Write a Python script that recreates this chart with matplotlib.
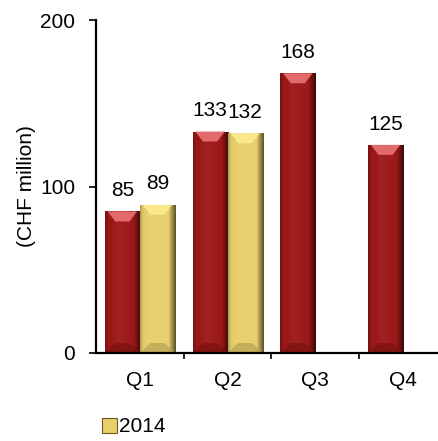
import numpy as np
import matplotlib
matplotlib.use("Agg")
import matplotlib.pyplot as plt
from matplotlib.patches import Polygon, Patch
from matplotlib.colors import to_rgb

plt.rcParams["font.family"] = ["Liberation Sans", "DejaVu Sans"]

# Quarterly values (CHF million)
quarters = ["Q1", "Q2", "Q3", "Q4"]
values_2013 = [85, 133, 168, 125]
values_2014 = [89, 132, None, None]
series_names = ["2013", "2014"]

RED = "#9c1818"
GOLD = "#e8cf6c"
FS = 15

fig = plt.figure(figsize=(4.39, 4.41), dpi=100)
ax = fig.add_axes([96 / 439, 88 / 441, 351 / 439, 333 / 441])

x = np.arange(len(quarters))
width = 0.4


def shade(color, f):
    c = np.array(to_rgb(color))
    if f >= 0:
        return tuple(c + (1 - c) * f)
    return tuple(c * (1 + f))


def bevel_bar(rect, color, top_col):
    x0, w, h = rect.get_x(), rect.get_width(), rect.get_height()
    # horizontal shading across the bar face
    t = np.linspace(0, 1, 64)
    prof = np.interp(t, [0, 0.08, 0.35, 0.8, 0.88, 1.0],
                     [-0.25, -0.03, 0.04, 0.0, -0.25, -0.6])
    img = np.array([[shade(color, p) for p in prof]])
    im = ax.imshow(img, extent=[x0, x0 + w, 0, h], aspect="auto",
                   interpolation="bilinear", zorder=2)
    im.set_clip_path(rect)
    d = 6
    top = Polygon([(x0 + 0.08 * w, h), (x0 + 0.92 * w, h),
                   (x0 + 0.7 * w, h - d), (x0 + 0.3 * w, h - d)],
                  closed=True, facecolor=top_col,
                  edgecolor="none", zorder=3)
    ax.add_patch(top)
    bot = Polygon([(x0, 0), (x0 + w, 0),
                   (x0 + 0.7 * w, d), (x0 + 0.3 * w, d)],
                  closed=True, facecolor=shade(color, -0.2),
                  edgecolor="none", zorder=3, alpha=0.8)
    ax.add_patch(bot)


def label(xc, v):
    ax.annotate(f"{v}", (xc, v), xytext=(0, 15), textcoords="offset points",
                ha="center", va="center", fontsize=FS, color="black",
                zorder=5)


for i, v in enumerate(values_2013):
    r = ax.bar(x[i] - width / 2, v, width, color=RED, zorder=1)[0]
    bevel_bar(r, RED, "#e26a6a")
    label(x[i] - width / 2, v)

for i, v in enumerate(values_2014):
    if v is None:
        continue
    r = ax.bar(x[i] + width / 2, v, width, color=GOLD, zorder=1)[0]
    bevel_bar(r, GOLD, "#f9e88e")
    label(x[i] + width / 2, v)

ax.set_xlim(-0.5, len(quarters) - 0.5)
ax.set_ylim(0, 200)
ax.set_yticks([0, 100, 200])
ax.tick_params(axis="y", labelsize=FS, length=5, width=1.2, pad=10,
               direction="out")
ax.set_xticks(x)
ax.set_xticklabels(quarters)
ax.tick_params(axis="x", which="major", length=0, labelsize=FS, pad=13)
ax.set_xticks(x[:-1] + 0.5, minor=True)
ax.tick_params(axis="x", which="minor", length=4, width=1.2, direction="out")

for s in ["top", "right"]:
    ax.spines[s].set_visible(False)
for s in ["left", "bottom"]:
    ax.spines[s].set_linewidth(1.6)
    ax.spines[s].set_zorder(4)

ax.set_ylabel("(CHF million)", fontsize=FS)
ax.yaxis.set_label_coords(-0.172, 0.5)

handle = Patch(facecolor=GOLD, edgecolor="#6a5a20", linewidth=0.8)
fig.legend([handle], [series_names[1]], loc="center left",
           bbox_to_anchor=(102 / 439, 1 - 427 / 441), frameon=False,
           fontsize=FS, handlelength=0.7, handleheight=0.7,
           handletextpad=0.1, borderpad=0, borderaxespad=0)

fig.savefig("out.png", dpi=100)
